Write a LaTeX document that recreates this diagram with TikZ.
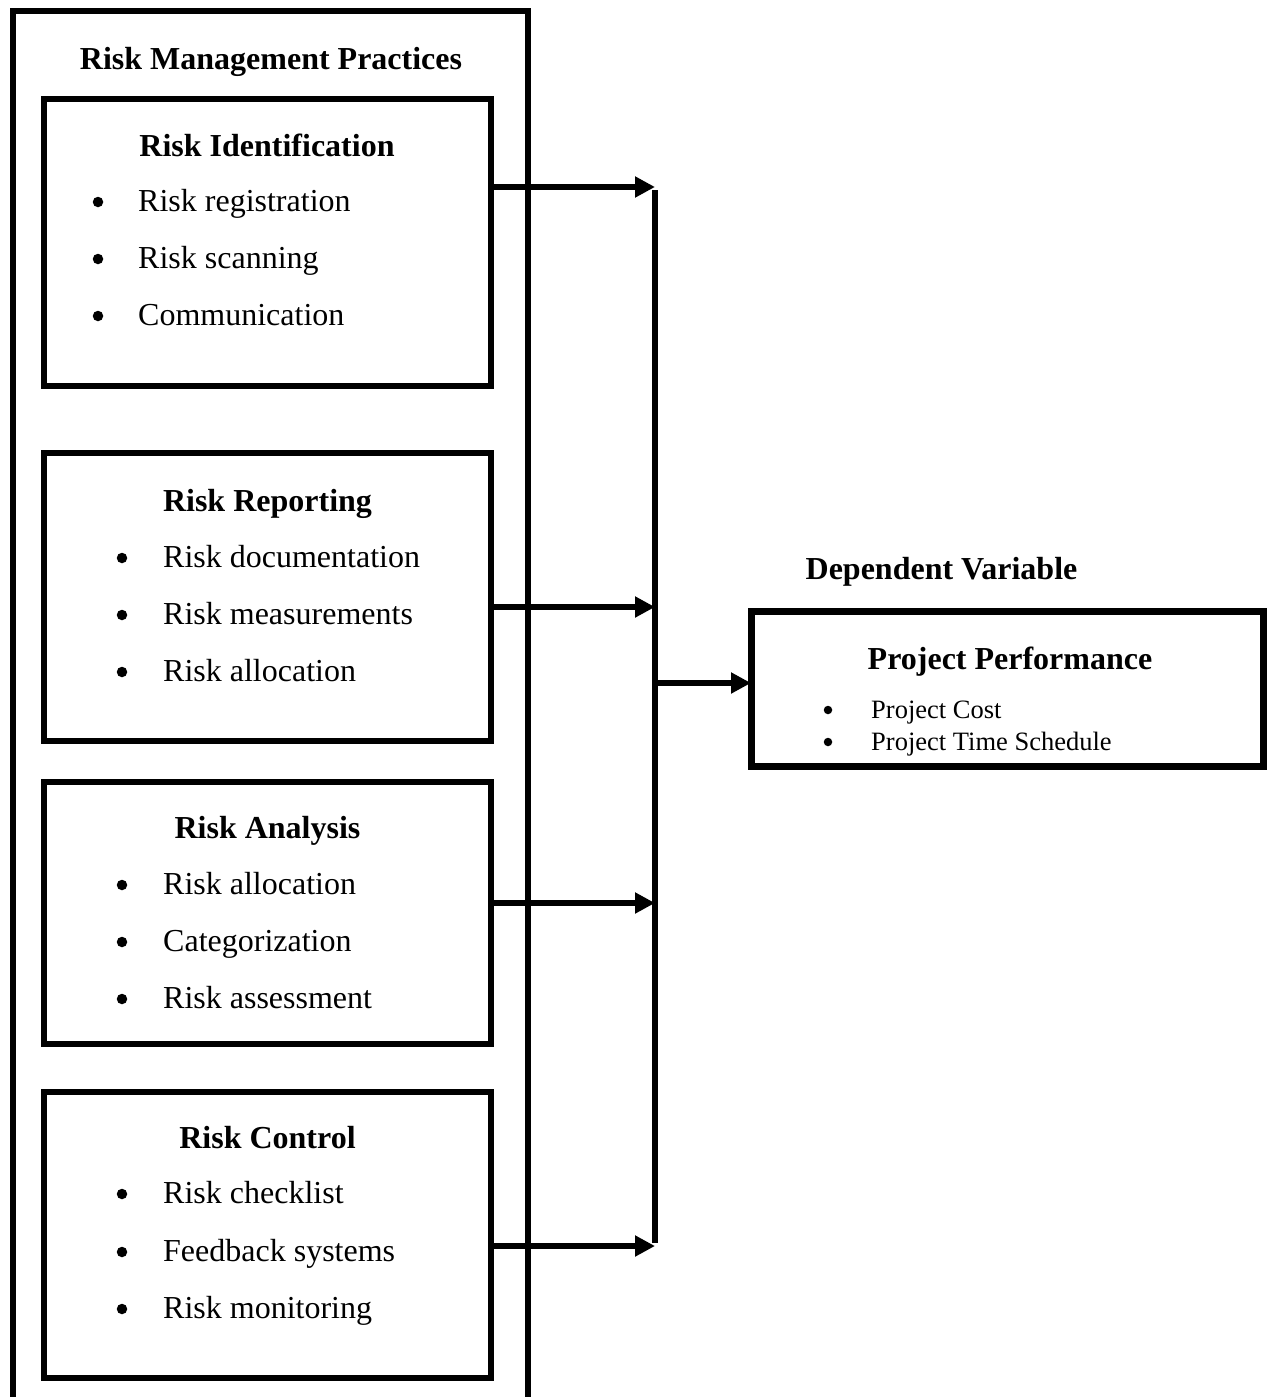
\documentclass[tikz,border=0pt]{standalone}
\usepackage{fontspec}
\setmainfont{Liberation Serif}
\usetikzlibrary{arrows.meta}
\begin{document}
\begin{tikzpicture}[x=1pt,y=-1pt,
  box/.style={draw, line width=6pt, inner sep=0pt, outer sep=0pt},
  conn/.style={line width=6pt},
  arr/.style={line width=6pt, -{Triangle[length=20pt,width=20pt]}},
  ttl/.style={anchor=base, inner sep=0pt, font=\fontsize{32}{38}\selectfont\bfseries},
  itm/.style={anchor=base west, inner sep=0pt, font=\fontsize{32}{38}\selectfont},
  sitm/.style={anchor=base west, inner sep=0pt, font=\fontsize{26.5}{32}\selectfont},
  dot/.style={circle, fill, inner sep=0pt, minimum size=10.5pt},
  sdot/.style={circle, fill, inner sep=0pt, minimum size=8.5pt}]
\useasboundingbox (0,0) rectangle (1268,1397);
% outer frame
\coordinate (oa) at (13,1397);
\coordinate (ob) at (13,11);
\coordinate (oc) at (528,11);
\coordinate (od) at (528,1397);
\draw[conn] (oa) -- (ob) -- (oc) -- (od);
\node[ttl] (rmp) at (271,70) {Risk Management Practices};
% inner boxes
\node[box, minimum width=447pt, minimum height=287pt] (b1) at (267.5,242.5) {};
\node[box, minimum width=447pt, minimum height=288pt] (b2) at (267.5,597) {};
\node[box, minimum width=447pt, minimum height=262pt] (b3) at (267.5,913) {};
\node[box, minimum width=447pt, minimum height=286pt] (b4) at (267.5,1235) {};
% box 1
\node[ttl] (t1) at (267,156) {Risk Identification};
\node[dot] (d11) at (98,202) {};
\node[dot] (d12) at (98,259) {};
\node[dot] (d13) at (98,316) {};
\node[itm] (i11) at (138,211) {Risk registration};
\node[itm] (i12) at (138,268) {Risk scanning};
\node[itm] (i13) at (138,325) {Communication};
% box 2
\node[ttl] (t2) at (267.5,511) {Risk Reporting};
\node[dot] (d21) at (122,558) {};
\node[dot] (d22) at (122,615) {};
\node[dot] (d23) at (122,672) {};
\node[itm] (i21) at (163,567) {Risk documentation};
\node[itm] (i22) at (163,624) {Risk measurements};
\node[itm] (i23) at (163,681) {Risk allocation};
% box 3
\node[ttl] (t3) at (267.5,838) {Risk Analysis};
\node[dot] (d31) at (122,885) {};
\node[dot] (d32) at (122,942) {};
\node[dot] (d33) at (122,999) {};
\node[itm] (i31) at (163,894) {Risk allocation};
\node[itm] (i32) at (163,951) {Categorization};
\node[itm] (i33) at (163,1008) {Risk assessment};
% box 4
\node[ttl] (t4) at (267.5,1148) {Risk Control};
\node[dot] (d41) at (122,1194) {};
\node[dot] (d42) at (122,1252) {};
\node[dot] (d43) at (122,1309) {};
\node[itm] (i41) at (163,1203) {Risk checklist};
\node[itm] (i42) at (163,1261) {Feedback systems};
\node[itm] (i43) at (163,1318) {Risk monitoring};
% dependent variable
\node[ttl] (dv) at (941.5,579) {Dependent Variable};
\node[box, line width=7pt, minimum width=512pt, minimum height=155pt] (pp) at (1007,688.5) {};
\node[ttl] (ppt) at (1010,669) {Project Performance};
\node[sdot] (pd1) at (828,710) {};
\node[sdot] (pd2) at (828,742) {};
\node[sitm] (p1) at (871,718) {Project Cost};
\node[sitm] (p2) at (871,750) {Project Time Schedule};
% connectors
\coordinate (j1) at (655,187);
\coordinate (j2) at (655,607);
\coordinate (j3) at (655,903);
\coordinate (j4) at (655,1246);
\coordinate (jm) at (655,683);
\draw[conn] ([yshift=-3pt]j1) -- ([yshift=3pt]j4);
\draw[arr] (b1.east |- j1) -- (j1);
\draw[arr] (b2.east |- j2) -- (j2);
\draw[arr] (b3.east |- j3) -- (j3);
\draw[arr] (b4.east |- j4) -- (j4);
\draw[arr] (jm) -- (pp.west |- jm);
\end{tikzpicture}
\end{document}
